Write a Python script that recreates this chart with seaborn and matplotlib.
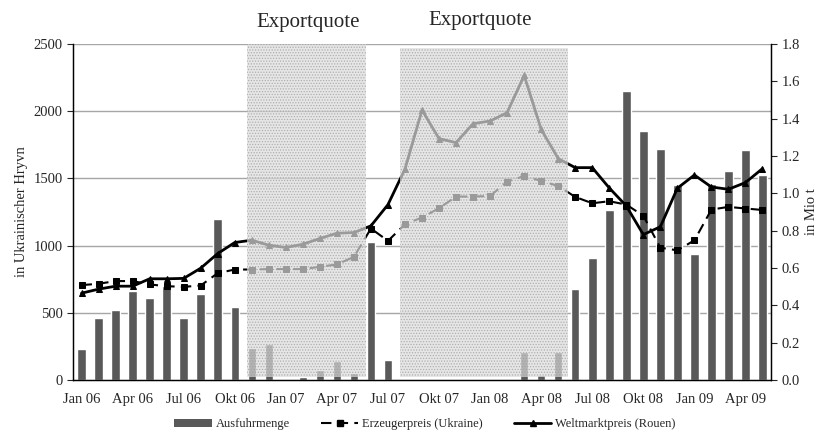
import numpy as np
import pandas as pd
import seaborn as sns
import matplotlib.pyplot as plt
from matplotlib.lines import Line2D
from matplotlib.patches import Patch
from matplotlib.ticker import FormatStrFormatter

# --- Daten ---
monate = ['Jan', 'Feb', 'Mrz', 'Apr', 'Mai', 'Jun', 'Jul', 'Aug', 'Sep', 'Okt', 'Nov', 'Dez']
jahre = ['06', '07', '08', '09']
labels = [f'{m} {j}' for j in jahre for m in monate][:41]   # Jan 06 .. Mai 09

# Ausfuhrmenge in Mio t (rechte Achse)
ausfuhr = [0.166, 0.330, 0.374, 0.477, 0.440, 0.501, 0.330, 0.460, 0.861, 0.392,
           0.171, 0.193, 0.000, 0.014, 0.054, 0.102, 0.040, 0.739, 0.107,
           0.000, 0.000, 0.000, 0.000, 0.000, 0.000, 0.000,
           0.151, 0.029, 0.148, 0.487, 0.651, 0.912, 1.547, 1.336, 1.237, 1.045,
           0.674, 1.052, 1.118, 1.230, 1.097]

# Erzeugerpreis (Ukraine), Hryvn
erzeuger = [706, 716, 736, 736, 711, 698, 693, 703, 795, 822,
            822, 825, 825, 825, 842, 860, 916, 1127, 1035,
            1159, 1209, 1278, 1365, 1365, 1369, 1476, 1518, 1481, 1444,
            1362, 1315, 1330, 1305, 1222, 984, 965, 1039, 1268, 1288, 1276, 1265]

# Weltmarktpreis (Rouen), Hryvn
welt = [646, 676, 698, 698, 753, 753, 756, 832, 941, 1023,
        1040, 1003, 986, 1010, 1053, 1092, 1097, 1147, 1305,
        1570, 2008, 1796, 1766, 1907, 1927, 1989, 2266, 1865, 1647,
        1580, 1580, 1429, 1295, 1082, 1140, 1427, 1525, 1436, 1419, 1469, 1573]

# Exportquote-Zeitraeume (Monatsindex) und Hoehe
quoten = [(9.7, 16.7, 1.0), (18.7, 28.6, 0.988)]

df = pd.DataFrame({'Monat': labels, 'Ausfuhr': ausfuhr,
                   'Erzeuger': erzeuger, 'Welt': welt, 'i': np.arange(len(labels))})

sns.set_style('white')
plt.rcParams['font.family'] = ['Liberation Serif', 'DejaVu Serif']
plt.rcParams['hatch.linewidth'] = 0.6

fig = plt.figure(figsize=(8.17, 4.33), dpi=100)
ax = fig.add_axes([0.0894, 0.1224, 0.8543, 0.776])
ax2 = ax.twinx()

# Balken auf der rechten Achse
sns.barplot(data=df, x='Monat', y='Ausfuhr', order=labels, color='#595959',
            saturation=1, width=0.5, ax=ax2, zorder=2)
ax2.set_ylim(0, 1.8)
ax2.set_yticks(np.arange(0, 1.81, 0.2))
ax2.yaxis.set_major_formatter(FormatStrFormatter('%.1f'))
ax2.set_xlabel('')
ax2.set_ylabel('in Mio t', fontsize=10.5)

# Gitternetz der linken Skala (hinter den Balken)
for g in [500, 1000, 1500, 2000, 2500]:
    ax2.axhline(g * 1.8 / 2500, color='#a6a6a6', lw=1, zorder=0)

# Linien auf der linken Achse
sns.lineplot(data=df, x='i', y='Erzeuger', ax=ax, color='black', lw=1.5,
             marker='s', markersize=5, markeredgecolor='black', dashes=False,
             linestyle=(0, (5, 3)), zorder=3)
sns.lineplot(data=df, x='i', y='Welt', ax=ax, color='black', lw=2,
             marker='^', markersize=5, markeredgecolor='black', zorder=3)

for x0, x1, top in quoten:
    ax.axvspan(x0, x1, ymin=0.008, ymax=top, facecolor='#dcdcdc', alpha=0.7,
               hatch='......', edgecolor='#9a9a9a', lw=0, zorder=4)

ax.set_zorder(ax2.get_zorder() + 1)
ax.patch.set_visible(False)

ax.set_ylim(0, 2500)
ax.set_yticks(np.arange(0, 2501, 500))
ax.set_xlim(-0.5, len(labels) - 0.5)
ax.set_xticks(np.arange(-0.5, len(labels), 1))
ax.set_xticklabels([])
ax.set_xticks(np.arange(0, len(labels), 3), minor=True)
ax.set_xticklabels(labels[::3], minor=True)
ax.tick_params(axis='x', which='major', direction='out', length=4, width=0.8)
ax.tick_params(axis='x', which='minor', length=0, labelsize=10.5, pad=9)
ax.tick_params(axis='y', direction='out', length=4, labelsize=10.5)
ax2.tick_params(axis='y', direction='out', length=4, labelsize=10.5)
ax.set_xlabel('')
ax.set_ylabel('in Ukrainischer Hryvn', fontsize=10.5)

for a in (ax, ax2):
    a.spines['top'].set_visible(False)
    for s in ('left', 'right', 'bottom'):
        a.spines[s].set_color('black')
        a.spines[s].set_linewidth(0.9)

# Beschriftung der Exportquote-Zeitraeume
fig.text(308 / 817, 1 - 22 / 433, 'Exportquote', ha='center', va='center', fontsize=15)
fig.text(480 / 817, 1 - 20 / 433, 'Exportquote', ha='center', va='center', fontsize=15)

handles = [Patch(facecolor='#595959', edgecolor='none'),
           Line2D([], [], color='black', lw=1.5, linestyle=(0, (5, 3)), marker='s', markersize=5),
           Line2D([], [], color='black', lw=2, marker='^', markersize=5)]
fig.legend(handles, ['Ausfuhrmenge', 'Erzeugerpreis (Ukraine)', 'Weltmarktpreis (Rouen)'],
           loc='lower center', bbox_to_anchor=(0.52, -0.02), ncol=3, frameon=False,
           fontsize=9, handlelength=3, columnspacing=2.5, handletextpad=0.3)

fig.savefig('out.png', dpi=100)
